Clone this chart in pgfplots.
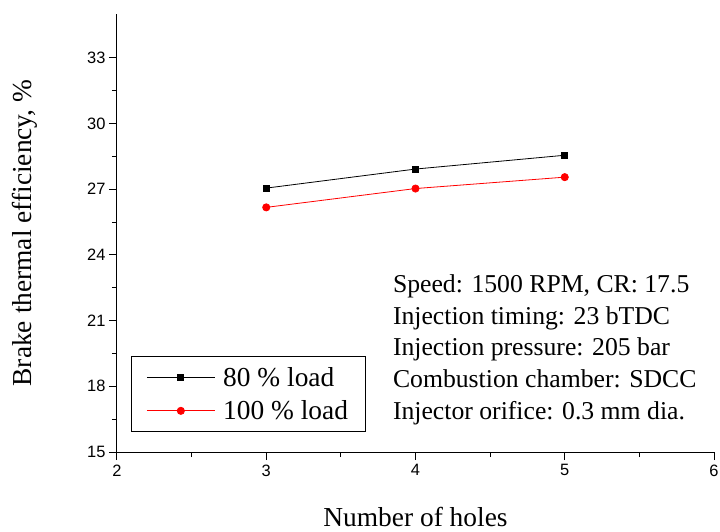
\documentclass[border=0pt]{standalone}
\usepackage{fontspec}
\setmainfont{Liberation Serif}
\setsansfont{Liberation Sans}
\usepackage{pgfplots}
\pgfplotsset{compat=1.18}
\begin{document}
\begin{tikzpicture}
\begin{axis}[
  scale only axis,
  width=597bp, height=438bp,
  xmin=2, xmax=6, ymin=15, ymax=35,
  axis x line=bottom, axis y line=left,
  axis line style={-, line width=1bp},
  xtick={2,3,4,5,6}, ytick={15,18,21,24,27,30,33},
  minor x tick num=1, minor y tick num=1,
  tick align=outside,
  major tick length=8bp, minor tick length=5bp,
  tick style={line width=1bp, black},
  /pgf/number format/assume math mode=true,
  ticklabel style={font=\fontsize{16.5}{18}\selectfont\sffamily},
  xticklabel style={yshift=-1bp},
  xlabel={Number of holes},
  ylabel={Brake thermal efficiency, \%},
  label style={font=\fontsize{27.5}{30}\selectfont},
  xlabel style={at={(axis description cs:0.5,-0.169)}, anchor=base},
  ylabel style={at={(axis description cs:-0.154,0.5)}, anchor=center, rotate=0},
  legend style={at={(axis description cs:0.0235,0.0457)}, anchor=south west,
    font=\fontsize{27.5}{30}\selectfont, draw=black, line width=0.8bp,
    inner xsep=15bp, inner ysep=8.5bp, row sep=9bp, column sep=6bp},
  legend cell align=left,
  legend image code/.code={\draw[mark repeat=2,mark phase=2,#1] plot coordinates {(0bp,0bp) (34bp,0bp) (68bp,0bp)};},
]
\addplot[black, line width=0.8bp, mark=square*, mark size=3bp, mark options={solid}]
  coordinates {(3,27.05) (4,27.92) (5,28.55)};
\addlegendentry{80 \% load}
\addplot[red, line width=0.8bp, mark=*, mark size=3.6bp, mark options={solid}]
  coordinates {(3,26.17) (4,27.03) (5,27.55)};
\addlegendentry{100 \% load}
\node[anchor=base west, align=left, font=\fontsize{25.8}{31.75}\selectfont, inner sep=0pt]
  at (axis description cs:0.462,0.0753)
  {Speed: 1500 RPM, CR: 17.5\\Injection timing: 23 bTDC\\Injection pressure: 205 bar\\Combustion chamber: SDCC\\Injector orifice: 0.3 mm dia.};
\coordinate (SW) at (rel axis cs:0,0);
\coordinate (NE) at (rel axis cs:1,1);
\end{axis}
\pgfresetboundingbox
\useasboundingbox ([shift={(-117bp,-80bp)}]SW) rectangle ([shift={(6bp,14bp)}]NE);
\end{tikzpicture}
\end{document}
